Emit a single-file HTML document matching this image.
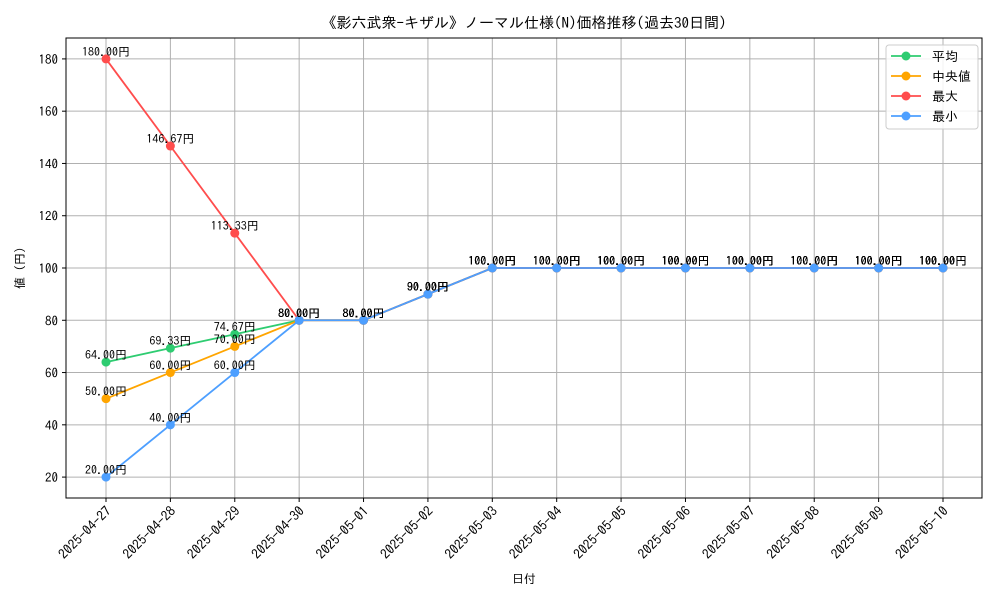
<!DOCTYPE html>
<html><head><meta charset="utf-8">
<style>
body{margin:0;background:#fff;}
svg text{font-family:"IPAGothic","Liberation Sans","Noto Sans CJK JP",sans-serif;}
</style></head>
<body>
<svg id="chart" width="1000" height="600" viewBox="0 0 1000 600" xmlns="http://www.w3.org/2000/svg">
<rect width="1000" height="600" fill="#fff"/>
<text x="524" y="28" font-size="15" text-anchor="middle" fill="#000">《影六武衆-キザル》ノーマル仕様(N)価格推移(過去30日間)</text>
<g id="grid"></g>
<g id="axes"></g>
<g id="series"></g>
<text x="524" y="583" font-size="12" text-anchor="middle">日付</text>
<text x="24" y="268" font-size="12" text-anchor="middle" transform="rotate(-90 24 268)">値 (円)</text>
<g>
<rect x="886" y="45" width="92" height="84" rx="3" fill="#fff" fill-opacity="0.85" stroke="#ccc"/>
<g id="legend-items"></g>
</g>
</svg>
<script>
const categories=["2025-04-27","2025-04-28","2025-04-29","2025-04-30","2025-05-01","2025-05-02","2025-05-03","2025-05-04","2025-05-05","2025-05-06","2025-05-07","2025-05-08","2025-05-09","2025-05-10"];
const avgValues=[64,69.33,74.67,80,80,90,100,100,100,100,100,100,100,100];
const medianValues=[50,60,70,80,80,90,100,100,100,100,100,100,100,100];
const maxValues=[180,146.67,113.33,80,80,90,100,100,100,100,100,100,100,100];
const minValues=[20,40,60,80,80,90,100,100,100,100,100,100,100,100];
const yTicks=[20,40,60,80,100,120,140,160,180];
const seriesNames=["平均","中央値","最大","最小"];
const NS="http://www.w3.org/2000/svg";
const L=66,R=982,T=38,B=498;
const yMin=12,yMax=188;
function xPos(i){return 106+i*(943-106)/(categories.length-1);}
function yPos(v){return B-(v-yMin)/(yMax-yMin)*(B-T);}
function mk(tag,attrs,parent){const e=document.createElementNS(NS,tag);for(const k in attrs)e.setAttribute(k,attrs[k]);parent.appendChild(e);return e;}
const grid=document.getElementById('grid'),axes=document.getElementById('axes'),ser=document.getElementById('series');
categories.forEach((c,i)=>{
  const x=xPos(i);
  const g=mk('line',{x1:x,x2:x,y1:T,y2:B,stroke:'#b0b0b0','stroke-width':1},grid);
  
  
  mk('line',{x1:x,x2:x,y1:B,y2:B+4,stroke:'#000'},axes);
  const t=mk('text',{x:x+6,y:B+14,'font-size':13.5,'text-anchor':'end',transform:`rotate(-45 ${x+6} ${B+14})`},axes);
  
  
  t.textContent=c;
});
yTicks.forEach(v=>{
  const y=yPos(v);
  const g=mk('line',{x1:L,x2:R,y1:y,y2:y,stroke:'#b0b0b0','stroke-width':1},grid);
  
  
  mk('line',{x1:L-4,x2:L,y1:y,y2:y,stroke:'#000'},axes);
  const t=mk('text',{x:L-8,y:y+5,'font-size':13,'text-anchor':'end'},axes);
  
  
  t.textContent=v;
});
const frame=mk('rect',{x:L,y:T,width:R-L,height:B-T,fill:'none',stroke:'#000','stroke-width':1},axes);


const series=[[avgValues,'#2ecc71','avg'],[medianValues,'#ffa500','median'],[maxValues,'#ff4d4d','max'],[minValues,'#4d9fff','min']];
series.forEach(([vals,col,nm])=>{
  const g=mk('g',{},ser);
  
  
  const pl=mk('polyline',{points:vals.map((v,i)=>xPos(i)+','+yPos(v)).join(' '),fill:'none',stroke:col,'stroke-width':1.8},g);
  
  
  vals.forEach((v,i)=>{
    const c=mk('circle',{cx:xPos(i),cy:yPos(v),r:4.5,fill:col},g);
    
    
  });
});
series.forEach(([vals,col,nm])=>{
  vals.forEach((v,i)=>{
    const t=mk('text',{x:xPos(i),y:yPos(v)-3,'font-size':12,'text-anchor':'middle',fill:'#000'},ser);
    
    
    t.textContent=v.toFixed(2)+'円';
  });
});
const li=document.getElementById('legend-items');
series.forEach(([vals,col,nm],k)=>{
  const y=56+k*20;
  const g=mk('g',{},li);
  
  
  mk('line',{x1:891,x2:921,y1:y,y2:y,stroke:col,'stroke-width':1.8},g);
  mk('circle',{cx:906,cy:y,r:4.5,fill:col},g);
  const t=mk('text',{x:932,y:y+5,'font-size':13},g);
  t.textContent=(k===1?' ':'')+seriesNames[k];
});
</script>
</body></html>
